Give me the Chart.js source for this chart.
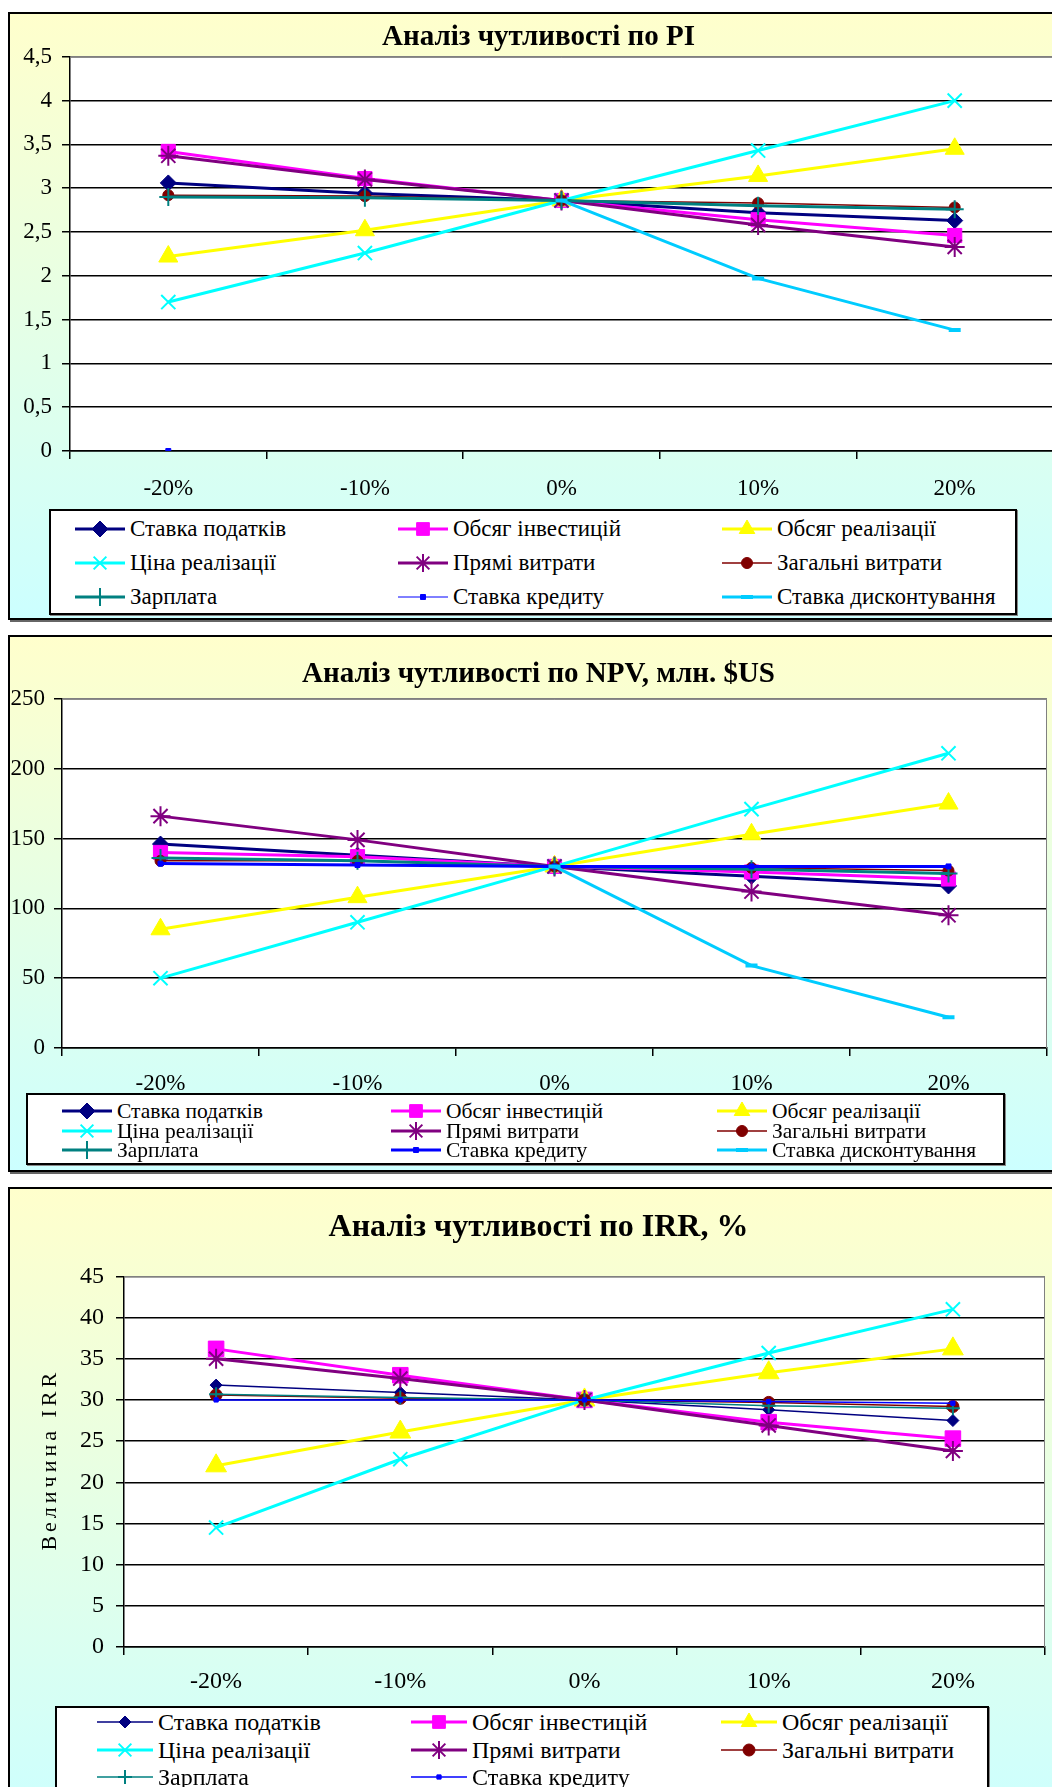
<!DOCTYPE html>
<html lang="uk">
<head>
<meta charset="utf-8">
<title>Аналіз чутливості</title>
<script src="https://cdn.jsdelivr.net/npm/chart.js@4.4.1/dist/chart.umd.min.js"></script>
<style>
  html, body { margin: 0; padding: 0; background: #fff; }
  body { position: relative; width: 1052px; height: 1787px; overflow: hidden;
         font-family: 'Liberation Serif', 'Times New Roman', serif; }
  .panel { position: absolute; left: 8px; width: 1070px; box-sizing: border-box;
           border: 2px solid #000; box-shadow: 2px 2px 0 #666;
           background: linear-gradient(to bottom, #ffffcc 0%, #ccffff 100%); }
  .plot { position: absolute; left: 10px; width: 1060px; }
  .legend { position: absolute; box-sizing: border-box; background: #fff;
            border: 2px solid #000; box-shadow: 1px 1px 0 #888; }
  .legend .item { position: absolute; display: flex; align-items: center; white-space: nowrap; color: #000; }
  .legend canvas { display: block; margin-right: 5px; }
</style>
</head>
<body>

<div class="panel" style="top:12px; height:608px;"></div>
<div class="plot" style="top:14px; height:495px;"><canvas id="chart-pi"></canvas></div>
<div class="legend" id="legend-pi" style="left:49px; top:509px; width:968px; height:106px;"></div>

<div class="panel" style="top:635px; height:537px;"></div>
<div class="plot" style="top:637px; height:456px;"><canvas id="chart-npv"></canvas></div>
<div class="legend" id="legend-npv" style="left:26px; top:1093px; width:979px; height:72px;"></div>

<div class="panel" style="top:1187px; height:640px;"></div>
<div class="plot" style="top:1189px; height:517px;"><canvas id="chart-irr"></canvas></div>
<div class="legend" id="legend-irr" style="left:55px; top:1706px; width:934px; height:110px;"></div>

<script>
// --- Категорії та назви рядів ---
const categories = ['-20%', '-10%', '0%', '10%', '20%'];
const seriesNames = [
    'Ставка податків', 'Обсяг інвестицій', 'Обсяг реалізації',
    'Ціна реалізації', 'Прямі витрати', 'Загальні витрати',
    'Зарплата', 'Ставка кредиту', 'Ставка дисконтування'
];

// --- PI ---
const piTax      = [3.06, 2.94, 2.86, 2.72, 2.63];
const piInvest   = [3.42, 3.11, 2.86, 2.64, 2.46];
const piVolume   = [2.22, 2.52, 2.86, 3.14, 3.45];
const piPrice    = [1.70, 2.26, 2.86, 3.43, 4.00];
const piDirect   = [3.37, 3.10, 2.86, 2.58, 2.33];
const piOverhead = [2.92, 2.91, 2.86, 2.83, 2.78];
const piSalary   = [2.90, 2.89, 2.86, 2.80, 2.76];
const piCredit   = [0, null, null, null, null];
const piDiscount = [null, null, 2.86, 1.97, 1.38];

// --- NPV, млн. $US ---
const npvTax      = [146, 138, 130, 123, 116];
const npvInvest   = [140, 137, 130, 126, 121];
const npvVolume   = [85, 108, 130, 153, 175];
const npvPrice    = [50, 90, 130, 171, 211];
const npvDirect   = [166, 149, 130, 112, 95];
const npvOverhead = [134, 134, 130, 129, 127];
const npvSalary   = [136, 134, 130, 128, 125];
const npvCredit   = [132, 131, 130, 130, 130];
const npvDiscount = [null, null, 130, 59, 22];

// --- IRR, % ---
const irrTax      = [31.8, 30.9, 30.0, 28.8, 27.5];
const irrInvest   = [36.2, 33.0, 30.0, 27.3, 25.3];
const irrVolume   = [22.0, 26.1, 30.0, 33.3, 36.2];
const irrPrice    = [14.5, 22.8, 30.0, 35.7, 41.0];
const irrDirect   = [35.0, 32.6, 30.0, 26.9, 23.8];
const irrOverhead = [30.6, 30.2, 30.0, 29.7, 29.2];
const irrSalary   = [30.7, 30.3, 30.0, 29.3, 29.0];
const irrCredit   = [30.0, 30.0, 30.0, 29.8, 29.6];

// --- Оформлення рядів ---
const seriesColors  = ['#000080', '#ff00ff', '#ffff00', '#00ffff', '#800080', '#800000', '#008080', '#0000ff', '#00ccff'];
const seriesMarkers = ['rectRot', 'rect', 'triangle', 'crossRot', 'star', 'circle', 'cross', 'rect', 'line'];
const FONT = "'Liberation Serif', 'Times New Roman', serif";

// білий фон області побудови та сіра рамка
const plotFrame = {
    id: 'plotFrame',
    beforeDraw(chart) {
        const { ctx, chartArea: a } = chart;
        ctx.save();
        ctx.fillStyle = '#fff';
        ctx.fillRect(a.left, a.top, a.right - a.left, a.bottom - a.top);
        ctx.restore();
    },
    beforeDatasetsDraw(chart) {
        const { ctx, chartArea: a } = chart;
        ctx.save();
        ctx.strokeStyle = '#808080';
        ctx.lineWidth = 1;
        ctx.beginPath();
        ctx.moveTo(a.left, a.top + 0.5);
        ctx.lineTo(a.right - 0.5, a.top + 0.5);
        ctx.lineTo(a.right - 0.5, a.bottom);
        ctx.stroke();
        ctx.restore();
    }
};

// заголовок центрується по всій рамці, а не лише по видимій частині полотна
const titleShift = {
    id: 'titleShift',
    afterLayout(chart, args, opts) {
        const t = chart.titleBlock;
        if (t && opts.dx) {
            t.left += opts.dx;
            t.right += opts.dx;
        }
    }
};

// підпис осі Y з розрідженими літерами
const spacedAxisTitle = {
    id: 'spacedAxisTitle',
    afterDraw(chart, args, opts) {
        if (!opts.text) return;
        const { ctx, chartArea: a } = chart;
        ctx.save();
        ctx.translate(opts.x, (a.top + a.bottom) / 2);
        ctx.rotate(-Math.PI / 2);
        ctx.font = opts.size + 'px ' + FONT;
        if ('letterSpacing' in ctx) ctx.letterSpacing = opts.spacing + 'px';
        ctx.fillStyle = '#000';
        ctx.textAlign = 'center';
        ctx.textBaseline = 'middle';
        ctx.fillText(opts.text, opts.spacing / 2, 0);
        ctx.restore();
    }
};

function strokeOnly(style) {
    return style === 'crossRot' || style === 'star' || style === 'cross' || style === 'line';
}

function buildDatasets(seriesData, widths, radii) {
    return seriesData.map((data, i) => {
        const marker = seriesMarkers[i];
        return {
            label: seriesNames[i],
            data: data,
            borderColor: seriesColors[i],
            backgroundColor: seriesColors[i],
            borderWidth: widths[i],
            pointStyle: marker,
            pointRadius: radii[i],
            pointHoverRadius: radii[i],
            pointBorderWidth: marker === 'line' ? 4 : (strokeOnly(marker) ? 2 : 1),
            tension: 0,
            spanGaps: false,
            order: seriesData.length - i
        };
    });
}

function makeChart(id, cfg) {
    return new Chart(document.getElementById(id), {
        type: 'line',
        data: { labels: categories, datasets: buildDatasets(cfg.series, cfg.widths, cfg.radii) },
        plugins: [plotFrame, titleShift, spacedAxisTitle],
        options: {
            responsive: true,
            maintainAspectRatio: false,
            animation: false,
            layout: { padding: { left: 0, right: cfg.padRight, top: 0, bottom: 0 } },
            plugins: {
                legend: { display: false },
                tooltip: { enabled: false },
                title: {
                    display: true,
                    text: cfg.title,
                    color: '#000',
                    font: { family: FONT, size: cfg.titleSize, weight: 'bold' },
                    padding: cfg.titlePad
                },
                titleShift: { dx: cfg.titleShift },
                spacedAxisTitle: cfg.yTitle || {}
            },
            scales: {
                x: {
                    offset: true,
                    ticks: { color: '#000', font: { family: FONT, size: cfg.tickSize }, padding: cfg.xPad, maxRotation: 0, autoSkip: false },
                    grid: { offset: true, drawOnChartArea: false, drawTicks: true, tickLength: 8, color: '#000', lineWidth: 1.5 },
                    border: { color: '#000', width: 1.5 },
                    afterFit: s => { s.height = cfg.xHeight; }
                },
                y: {
                    min: 0,
                    max: cfg.yMax,
                    ticks: {
                        stepSize: cfg.step,
                        color: '#000',
                        font: { family: FONT, size: cfg.tickSize },
                        padding: cfg.yPad,
                        callback: v => String(v).replace('.', ',')
                    },
                    grid: {
                        color: c => (c.tick && c.tick.value === cfg.yMax) ? '#808080' : '#000',
                        tickColor: '#000',
                        lineWidth: 1.5,
                        tickLength: 8
                    },
                    border: { color: '#000', width: 1.5 },
                    afterFit: s => { s.width = cfg.yWidth; }
                }
            }
        }
    });
}

// --- Легенда у три колонки ---
function drawLegendKey(canvas, i, width, radius) {
    const ctx = canvas.getContext('2d');
    const h = canvas.height, mid = h / 2;
    ctx.strokeStyle = seriesColors[i];
    ctx.fillStyle = seriesColors[i];
    ctx.lineWidth = width;
    ctx.beginPath();
    ctx.moveTo(0, mid);
    ctx.lineTo(canvas.width, mid);
    ctx.stroke();
    const marker = seriesMarkers[i];
    ctx.lineWidth = marker === 'line' ? 4 : (strokeOnly(marker) ? 2 : 1);
    Chart.helpers.drawPoint(ctx, { pointStyle: marker, rotation: 0, radius: radius, borderWidth: ctx.lineWidth }, canvas.width / 2, mid);
}

function buildLegend(id, lg) {
    const box = document.getElementById(id);
    lg.count = lg.count || seriesNames.length;
    for (let i = 0; i < lg.count; i++) {
        const row = Math.floor(i / 3), col = i % 3;
        const item = document.createElement('div');
        item.className = 'item';
        item.style.left = lg.cols[col] + 'px';
        item.style.top = (lg.rows[row] - 14) + 'px';
        item.style.height = '28px';
        item.style.fontSize = lg.fontSize + 'px';
        const key = document.createElement('canvas');
        key.width = lg.keyWidth;
        key.height = 28;
        drawLegendKey(key, i, lg.widths[i], Math.min(lg.radii[i], 9));
        const text = document.createElement('span');
        text.textContent = seriesNames[i];
        item.appendChild(key);
        item.appendChild(text);
        box.appendChild(item);
    }
}

// --- Графік PI ---
const piWidths = [3, 3, 3, 3, 3, 1.5, 3, 1, 3];
const piRadii  = [8, 10, 11, 10, 10, 5.5, 9, 3.5, 6];
makeChart('chart-pi', {
    title: 'Аналіз чутливості по PI', titleSize: 29, titleShift: 7,
    series: [piTax, piInvest, piVolume, piPrice, piDirect, piOverhead, piSalary, piCredit, piDiscount],
    widths: piWidths, radii: piRadii,
    yMax: 4.5, step: 0.5, yWidth: 60, yPad: 10, tickSize: 23,
    xHeight: 58, xPad: 16, padRight: 17,
    titlePad: { top: 6, bottom: 2 }
});
buildLegend('legend-pi', { cols: [24, 347, 671], rows: [18, 52, 86], keyWidth: 50, fontSize: 23, widths: piWidths, radii: piRadii });

// --- Графік NPV ---
const npvWidths = [3, 3, 3, 3, 3, 1.5, 3, 3, 3];
const npvRadii  = [8, 10, 11, 10, 10, 5.5, 9, 3.5, 6];
makeChart('chart-npv', {
    title: 'Аналіз чутливості по NPV, млн. $US', titleSize: 29, titleShift: 10,
    series: [npvTax, npvInvest, npvVolume, npvPrice, npvDirect, npvOverhead, npvSalary, npvCredit, npvDiscount],
    widths: npvWidths, radii: npvRadii,
    yMax: 250, step: 50, yWidth: 52, yPad: 9, tickSize: 23,
    xHeight: 45, xPad: 14, padRight: 23,
    titlePad: { top: 20, bottom: 7 }
});
buildLegend('legend-npv', { cols: [34, 363, 689], rows: [16, 36, 55], keyWidth: 50, fontSize: 21.5, widths: npvWidths, radii: npvRadii });

// --- Графік IRR ---
const irrWidths = [1.5, 3, 3, 3, 3, 1.5, 1.5, 1.5];
const irrRadii  = [6, 11, 12, 10, 10, 6, 7, 3];
makeChart('chart-irr', {
    title: 'Аналіз чутливості по IRR, %', titleSize: 32, titleShift: 11,
    series: [irrTax, irrInvest, irrVolume, irrPrice, irrDirect, irrOverhead, irrSalary, irrCredit],
    widths: irrWidths, radii: irrRadii,
    yMax: 45, step: 5, yWidth: 114, yPad: 12, tickSize: 24,
    yTitle: { text: 'Величина IRR', x: 40, size: 22, spacing: 4 },
    xHeight: 59, xPad: 12, padRight: 25,
    titlePad: { top: 20, bottom: 29 }
});
buildLegend('legend-irr', { cols: [40, 354, 664], rows: [14, 42, 69], keyWidth: 56, fontSize: 24, count: 8, widths: irrWidths, radii: irrRadii });
</script>
</body>
</html>
